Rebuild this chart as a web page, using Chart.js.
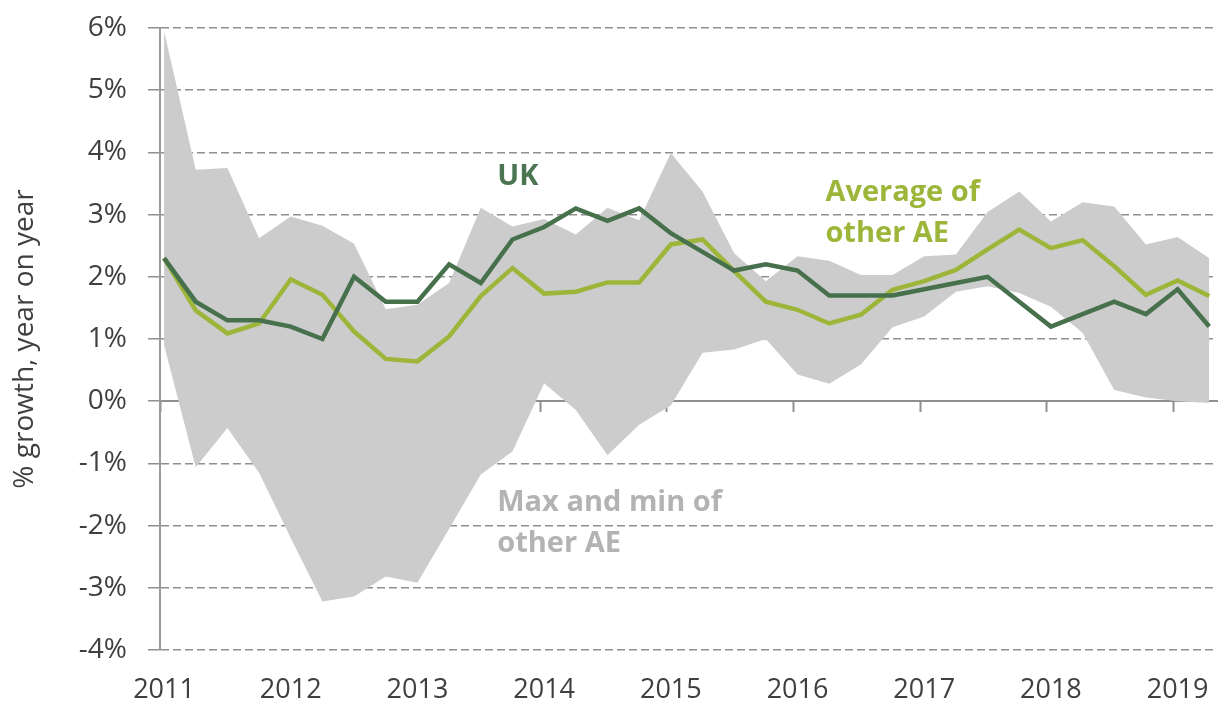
<!DOCTYPE html>
<html>
<head>
<meta charset="utf-8">
<script src="https://cdn.jsdelivr.net/npm/chart.js@4/dist/chart.umd.min.js"></script>
<style>
  html, body { margin: 0; padding: 0; background: #ffffff; }
  #wrap { width: 1219px; height: 706px; }
</style>
</head>
<body>
<div id="wrap"><canvas id="c" width="1219" height="706"></canvas></div>
<script>
// ---- Data ----
const quarters = [
  '2011 Q1','2011 Q2','2011 Q3','2011 Q4',
  '2012 Q1','2012 Q2','2012 Q3','2012 Q4',
  '2013 Q1','2013 Q2','2013 Q3','2013 Q4',
  '2014 Q1','2014 Q2','2014 Q3','2014 Q4',
  '2015 Q1','2015 Q2','2015 Q3','2015 Q4',
  '2016 Q1','2016 Q2','2016 Q3','2016 Q4',
  '2017 Q1','2017 Q2','2017 Q3','2017 Q4',
  '2018 Q1','2018 Q2','2018 Q3','2018 Q4',
  '2019 Q1','2019 Q2'
];
const ukGrowth = [2.3,1.6,1.3,1.3,1.2,1.0,2.0,1.6,1.6,2.2,1.9,2.6,2.8,3.1,2.9,3.1,2.7,2.4,2.1,2.2,2.1,1.7,1.7,1.7,1.8,1.9,2.0,1.6,1.2,1.4,1.6,1.4,1.8,1.2];
const avgOtherAE = [2.3,1.46,1.09,1.25,1.96,1.71,1.12,0.68,0.64,1.04,1.69,2.14,1.73,1.76,1.91,1.91,2.52,2.60,2.09,1.60,1.47,1.25,1.39,1.79,1.93,2.11,2.44,2.76,2.46,2.59,2.17,1.71,1.94,1.69];
const maxOtherAE = [5.95,3.72,3.75,2.62,2.97,2.82,2.53,1.48,1.55,1.90,3.11,2.81,2.93,2.68,3.11,2.91,3.99,3.37,2.38,1.93,2.33,2.26,2.03,2.03,2.33,2.36,3.04,3.37,2.89,3.20,3.13,2.52,2.64,2.30];
const minOtherAE = [0.9,-1.06,-0.43,-1.15,-2.2,-3.22,-3.14,-2.82,-2.92,-2.05,-1.18,-0.81,0.29,-0.14,-0.87,-0.38,-0.07,0.78,0.83,1.0,0.43,0.28,0.59,1.19,1.36,1.76,1.85,1.74,1.52,1.10,0.18,0.06,0.0,-0.03];
const yearTicks = [2011,2012,2013,2014,2015,2016,2017,2018,2019];
const yTickValues = [-4,-3,-2,-1,0,1,2,3,4,5,6];
const yAxisTitle = '% growth, year on year';

// ---- Styling ----
const FONT = "'Open Sans', 'Noto Sans', sans-serif";
const UK_COLOR = '#47714d';
const AVG_COLOR = '#9db63a';
const BAND_COLOR = '#cccccc';
const TEXT_COLOR = '#3f3f3f';
const GRID_COLOR = '#8f8f8f';

function quarterToX(q) {
  const [y, qq] = q.split(' Q');
  return Number(y) + (Number(qq) - 1) / 4;
}
function toPoints(values) {
  return values.map((v, i) => ({ x: quarterToX(quarters[i]), y: v }));
}

const annotations = [
  { lines: ['UK'], x: 2013.63, y: 3.61, color: '#4b7651' },
  { lines: ['Average of', 'other AE'], x: 2016.22, y: 3.35, color: AVG_COLOR },
  { lines: ['Max and min of', 'other AE'], x: 2013.63, y: -1.64, color: '#b3b3b3' }
];

const annotationPlugin = {
  id: 'annot',
  afterDatasetsDraw(chart) {
    const ctx = chart.ctx;
    const xs = chart.scales.x, ys = chart.scales.y;
    ctx.save();
    ctx.font = "bold 29px " + FONT;
    ctx.textAlign = 'left';
    ctx.textBaseline = 'middle';
    annotations.forEach(a => {
      ctx.fillStyle = a.color;
      const px = xs.getPixelForValue(a.x);
      const py = ys.getPixelForValue(a.y);
      a.lines.forEach((t, k) => ctx.fillText(t, px, py + k * 41));
    });
    ctx.restore();
  }
};

new Chart(document.getElementById('c'), {
  type: 'line',
  data: {
    datasets: [
      { label: 'UK', data: toPoints(ukGrowth), borderColor: UK_COLOR, borderWidth: 4.5, pointRadius: 0, tension: 0, fill: false, order: 0 },
      { label: 'Average of other AE', data: toPoints(avgOtherAE), borderColor: AVG_COLOR, borderWidth: 4.5, pointRadius: 0, tension: 0, fill: false, order: 1 },
      { label: 'Max of other AE', data: toPoints(maxOtherAE), borderWidth: 0, borderColor: 'rgba(0,0,0,0)', backgroundColor: BAND_COLOR, pointRadius: 0, tension: 0, fill: '+1', order: 2 },
      { label: 'Min of other AE', data: toPoints(minOtherAE), borderWidth: 0, borderColor: 'rgba(0,0,0,0)', backgroundColor: BAND_COLOR, pointRadius: 0, tension: 0, fill: false, order: 3 }
    ]
  },
  options: {
    responsive: false,
    animation: false,
    devicePixelRatio: 1,
    layout: { padding: { top: 28, right: 2, left: 0, bottom: 0 } },
    plugins: { legend: { display: false }, tooltip: { enabled: false } },
    scales: {
      x: {
        type: 'linear',
        position: 'bottom',
        min: 2010.968,
        max: 2019.311,
        afterBuildTicks: s => { s.ticks = yearTicks.map(v => ({ value: v })); },
        afterFit: s => { s.height = 56; s.paddingLeft = 0; s.paddingRight = 0; },
        ticks: { callback: v => String(v), font: { family: FONT, size: 27 }, color: TEXT_COLOR, padding: 24, maxRotation: 0, autoSkip: false },
        grid: { display: false, drawTicks: false },
        border: { display: false }
      },
      x0: {
        type: 'linear',
        position: { y: 0 },
        min: 2011,
        max: 2019.343,
        z: 1,
        afterBuildTicks: s => { s.ticks = yearTicks.map(v => ({ value: v })); },
        afterFit: s => { s.height = 0; s.paddingLeft = 0; s.paddingRight = 0; },
        ticks: { display: false },
        grid: { display: true, drawOnChartArea: false, drawTicks: true, tickLength: 10, tickColor: GRID_COLOR, tickWidth: 2 },
        border: { display: true, color: GRID_COLOR, width: 2 }
      },
      y: {
        type: 'linear',
        min: -4,
        max: 6,
        afterBuildTicks: s => { s.ticks = yTickValues.map(v => ({ value: v })); },
        afterFit: s => { s.width = 160; s.paddingTop = 0; s.paddingBottom = 0; },
        ticks: { callback: v => v + '%', font: { family: FONT, size: 28 }, color: TEXT_COLOR, padding: 21 },
        grid: {
          color: c => (c.tick && c.tick.value === 0) ? 'rgba(0,0,0,0)' : GRID_COLOR,
          lineWidth: 1.5,
          tickLength: 12,
          tickColor: GRID_COLOR,
          tickWidth: 1.5,
          tickBorderDash: []
        },
        border: { display: true, color: '#9a9a9a', width: 2, dash: [8, 4] },
        title: { display: true, text: yAxisTitle, font: { family: FONT, size: 28 }, color: TEXT_COLOR, padding: { top: 8, bottom: 0 } }
      }
    }
  },
  plugins: [annotationPlugin]
});
</script>
</body>
</html>
